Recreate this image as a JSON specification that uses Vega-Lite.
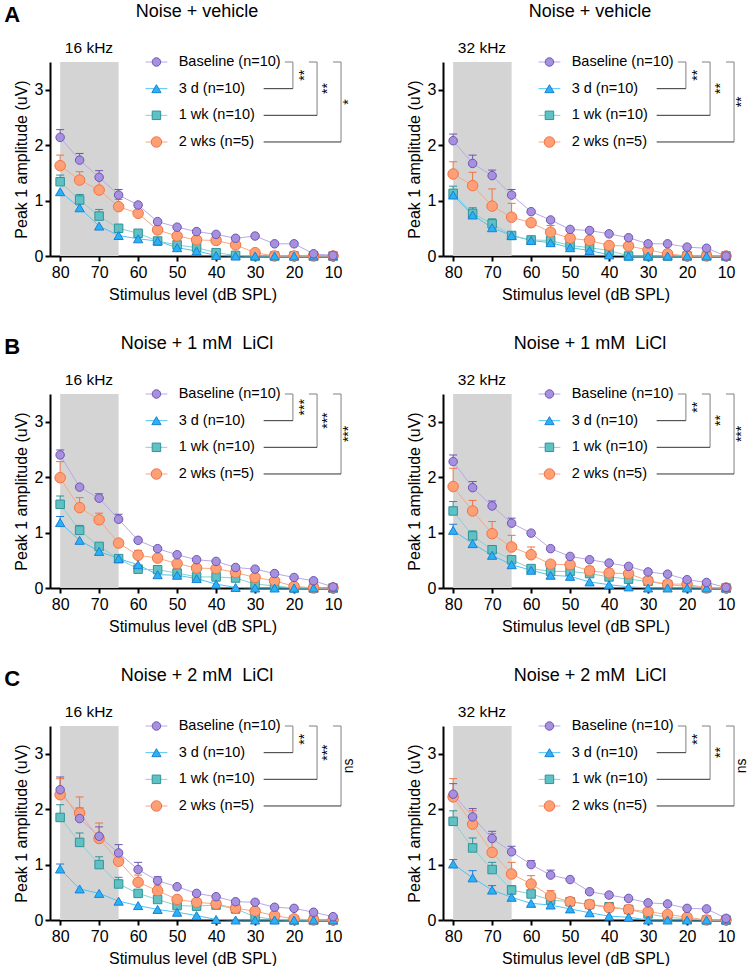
{
"$schema": "https://vega.github.io/schema/vega-lite/v6.json",
"padding": {"left": 4, "top": 2, "right": 0, "bottom": 0},
"config": {
  "font": "Liberation Sans",
  "view": {"stroke": null},
  "legend": {"disable": true},
  "headerFacet": {"labels": false, "title": null, "labelPadding": 0, "labelFontSize": 1},
  "axis": {"domainColor": "#000", "domainWidth": 2, "tickColor": "#000", "tickWidth": 2, "tickSize": 5, "labelColor": "#000", "labelFontSize": 16, "titleFontSize": 16, "titleFontWeight": "normal", "titleColor": "#000", "grid": false, "labelFont": "Liberation Sans", "titleFont": "Liberation Sans"}
},
"datasets": {
"panels": [
 {"p":"A16","title":"Noise + vehicle","freq":"16 kHz","s1":"**","s2":"**","s3":"*","letter":"A"},
 {"p":"A32","title":"Noise + vehicle","freq":"32 kHz","s1":"**","s2":"**","s3":"**","letter":""},
 {"p":"B16","title":"Noise + 1 mM\u00a0 LiCl","freq":"16 kHz","s1":"***","s2":"***","s3":"***","letter":"B"},
 {"p":"B32","title":"Noise + 1 mM\u00a0 LiCl","freq":"32 kHz","s1":"**","s2":"**","s3":"***","letter":""},
 {"p":"C16","title":"Noise + 2 mM\u00a0 LiCl","freq":"16 kHz","s1":"**","s2":"***","s3":"ns","letter":"C"},
 {"p":"C32","title":"Noise + 2 mM\u00a0 LiCl","freq":"32 kHz","s1":"**","s2":"**","s3":"ns","letter":""}
],
"groups": [
 {"g":"Baseline","label":"Baseline (n=10)"},
 {"g":"3 d","label":"3 d (n=10)"},
 {"g":"1 wk","label":"1 wk (n=10)"},
 {"g":"2 wks","label":"2 wks (n=5)"}
],
"abr": [
{"p":"A16","g":"Baseline","l":80,"v":2.14,"e":2.28},{"p":"A16","g":"Baseline","l":75,"v":1.73,"e":1.85},{"p":"A16","g":"Baseline","l":70,"v":1.42,"e":1.54},{"p":"A16","g":"Baseline","l":65,"v":1.10,"e":1.20},{"p":"A16","g":"Baseline","l":60,"v":0.92},{"p":"A16","g":"Baseline","l":55,"v":0.62},{"p":"A16","g":"Baseline","l":50,"v":0.52},{"p":"A16","g":"Baseline","l":45,"v":0.44},{"p":"A16","g":"Baseline","l":40,"v":0.39},{"p":"A16","g":"Baseline","l":35,"v":0.32},{"p":"A16","g":"Baseline","l":30,"v":0.36},{"p":"A16","g":"Baseline","l":25,"v":0.22},{"p":"A16","g":"Baseline","l":20,"v":0.22},{"p":"A16","g":"Baseline","l":15,"v":0.04},{"p":"A16","g":"Baseline","l":10,"v":0.01},
{"p":"A16","g":"3 d","l":80,"v":1.16},{"p":"A16","g":"3 d","l":75,"v":0.87},{"p":"A16","g":"3 d","l":70,"v":0.54},{"p":"A16","g":"3 d","l":65,"v":0.37},{"p":"A16","g":"3 d","l":60,"v":0.31},{"p":"A16","g":"3 d","l":55,"v":0.27},{"p":"A16","g":"3 d","l":50,"v":0.15},{"p":"A16","g":"3 d","l":45,"v":0.09},{"p":"A16","g":"3 d","l":40,"v":0.01},{"p":"A16","g":"3 d","l":35,"v":0},{"p":"A16","g":"3 d","l":30,"v":0},{"p":"A16","g":"3 d","l":25,"v":0},{"p":"A16","g":"3 d","l":20,"v":0},{"p":"A16","g":"3 d","l":15,"v":0},{"p":"A16","g":"3 d","l":10,"v":0},
{"p":"A16","g":"1 wk","l":80,"v":1.34,"e":1.46},{"p":"A16","g":"1 wk","l":75,"v":1.01,"e":1.11},{"p":"A16","g":"1 wk","l":70,"v":0.72,"e":0.84},{"p":"A16","g":"1 wk","l":65,"v":0.50},{"p":"A16","g":"1 wk","l":60,"v":0.41},{"p":"A16","g":"1 wk","l":55,"v":0.27},{"p":"A16","g":"1 wk","l":50,"v":0.20},{"p":"A16","g":"1 wk","l":45,"v":0.15},{"p":"A16","g":"1 wk","l":40,"v":0.06},{"p":"A16","g":"1 wk","l":35,"v":0.01},{"p":"A16","g":"1 wk","l":30,"v":0},{"p":"A16","g":"1 wk","l":25,"v":0},{"p":"A16","g":"1 wk","l":20,"v":0},{"p":"A16","g":"1 wk","l":15,"v":0},{"p":"A16","g":"1 wk","l":10,"v":0},
{"p":"A16","g":"2 wks","l":80,"v":1.63,"e":1.82},{"p":"A16","g":"2 wks","l":75,"v":1.37,"e":1.52},{"p":"A16","g":"2 wks","l":70,"v":1.19,"e":1.39},{"p":"A16","g":"2 wks","l":65,"v":0.89,"e":1.02},{"p":"A16","g":"2 wks","l":60,"v":0.77},{"p":"A16","g":"2 wks","l":55,"v":0.47},{"p":"A16","g":"2 wks","l":50,"v":0.36},{"p":"A16","g":"2 wks","l":45,"v":0.29},{"p":"A16","g":"2 wks","l":40,"v":0.28},{"p":"A16","g":"2 wks","l":35,"v":0.20},{"p":"A16","g":"2 wks","l":30,"v":0.06},{"p":"A16","g":"2 wks","l":25,"v":0},{"p":"A16","g":"2 wks","l":20,"v":0},{"p":"A16","g":"2 wks","l":15,"v":0},{"p":"A16","g":"2 wks","l":10,"v":0},
{"p":"A32","g":"Baseline","l":80,"v":2.08,"e":2.20},{"p":"A32","g":"Baseline","l":75,"v":1.67,"e":1.82},{"p":"A32","g":"Baseline","l":70,"v":1.45,"e":1.55},{"p":"A32","g":"Baseline","l":65,"v":1.10,"e":1.20},{"p":"A32","g":"Baseline","l":60,"v":0.80},{"p":"A32","g":"Baseline","l":55,"v":0.65},{"p":"A32","g":"Baseline","l":50,"v":0.48},{"p":"A32","g":"Baseline","l":45,"v":0.46},{"p":"A32","g":"Baseline","l":40,"v":0.40},{"p":"A32","g":"Baseline","l":35,"v":0.33},{"p":"A32","g":"Baseline","l":30,"v":0.22},{"p":"A32","g":"Baseline","l":25,"v":0.22},{"p":"A32","g":"Baseline","l":20,"v":0.16},{"p":"A32","g":"Baseline","l":15,"v":0.14},{"p":"A32","g":"Baseline","l":10,"v":0.0},
{"p":"A32","g":"3 d","l":80,"v":1.10},{"p":"A32","g":"3 d","l":75,"v":0.74},{"p":"A32","g":"3 d","l":70,"v":0.51},{"p":"A32","g":"3 d","l":65,"v":0.37},{"p":"A32","g":"3 d","l":60,"v":0.28},{"p":"A32","g":"3 d","l":55,"v":0.24},{"p":"A32","g":"3 d","l":50,"v":0.15},{"p":"A32","g":"3 d","l":45,"v":0.10},{"p":"A32","g":"3 d","l":40,"v":0.02},{"p":"A32","g":"3 d","l":35,"v":0},{"p":"A32","g":"3 d","l":30,"v":0},{"p":"A32","g":"3 d","l":25,"v":0},{"p":"A32","g":"3 d","l":20,"v":0},{"p":"A32","g":"3 d","l":15,"v":0},{"p":"A32","g":"3 d","l":10,"v":0},
{"p":"A32","g":"1 wk","l":80,"v":1.13,"e":1.26},{"p":"A32","g":"1 wk","l":75,"v":0.77,"e":0.87},{"p":"A32","g":"1 wk","l":70,"v":0.58,"e":0.67},{"p":"A32","g":"1 wk","l":65,"v":0.37},{"p":"A32","g":"1 wk","l":60,"v":0.29},{"p":"A32","g":"1 wk","l":55,"v":0.28},{"p":"A32","g":"1 wk","l":50,"v":0.19},{"p":"A32","g":"1 wk","l":45,"v":0.15},{"p":"A32","g":"1 wk","l":40,"v":0.10},{"p":"A32","g":"1 wk","l":35,"v":0},{"p":"A32","g":"1 wk","l":30,"v":0},{"p":"A32","g":"1 wk","l":25,"v":0},{"p":"A32","g":"1 wk","l":20,"v":0},{"p":"A32","g":"1 wk","l":15,"v":0},{"p":"A32","g":"1 wk","l":10,"v":0},
{"p":"A32","g":"2 wks","l":80,"v":1.48,"e":1.70},{"p":"A32","g":"2 wks","l":75,"v":1.27,"e":1.51},{"p":"A32","g":"2 wks","l":70,"v":0.90,"e":1.21},{"p":"A32","g":"2 wks","l":65,"v":0.70,"e":0.95},{"p":"A32","g":"2 wks","l":60,"v":0.60},{"p":"A32","g":"2 wks","l":55,"v":0.43,"e":0.55},{"p":"A32","g":"2 wks","l":50,"v":0.32,"e":0.39},{"p":"A32","g":"2 wks","l":45,"v":0.28,"e":0.36},{"p":"A32","g":"2 wks","l":40,"v":0.19},{"p":"A32","g":"2 wks","l":35,"v":0.18},{"p":"A32","g":"2 wks","l":30,"v":0.11},{"p":"A32","g":"2 wks","l":25,"v":0.04},{"p":"A32","g":"2 wks","l":20,"v":0},{"p":"A32","g":"2 wks","l":15,"v":0},{"p":"A32","g":"2 wks","l":10,"v":0},
{"p":"B16","g":"Baseline","l":80,"v":2.40,"e":2.49},{"p":"B16","g":"Baseline","l":75,"v":1.82},{"p":"B16","g":"Baseline","l":70,"v":1.62,"e":1.70},{"p":"B16","g":"Baseline","l":65,"v":1.24,"e":1.33},{"p":"B16","g":"Baseline","l":60,"v":0.86},{"p":"B16","g":"Baseline","l":55,"v":0.71},{"p":"B16","g":"Baseline","l":50,"v":0.60},{"p":"B16","g":"Baseline","l":45,"v":0.51},{"p":"B16","g":"Baseline","l":40,"v":0.48},{"p":"B16","g":"Baseline","l":35,"v":0.37},{"p":"B16","g":"Baseline","l":30,"v":0.34},{"p":"B16","g":"Baseline","l":25,"v":0.26},{"p":"B16","g":"Baseline","l":20,"v":0.19},{"p":"B16","g":"Baseline","l":15,"v":0.13},{"p":"B16","g":"Baseline","l":10,"v":0.02},
{"p":"B16","g":"3 d","l":80,"v":1.18,"e":1.29},{"p":"B16","g":"3 d","l":75,"v":0.86},{"p":"B16","g":"3 d","l":70,"v":0.66},{"p":"B16","g":"3 d","l":65,"v":0.53},{"p":"B16","g":"3 d","l":60,"v":0.42},{"p":"B16","g":"3 d","l":55,"v":0.24},{"p":"B16","g":"3 d","l":50,"v":0.23},{"p":"B16","g":"3 d","l":45,"v":0.17},{"p":"B16","g":"3 d","l":40,"v":0.07},{"p":"B16","g":"3 d","l":35,"v":0.01},{"p":"B16","g":"3 d","l":30,"v":0},{"p":"B16","g":"3 d","l":25,"v":0},{"p":"B16","g":"3 d","l":20,"v":0},{"p":"B16","g":"3 d","l":15,"v":0},{"p":"B16","g":"3 d","l":10,"v":0},
{"p":"B16","g":"1 wk","l":80,"v":1.51,"e":1.66},{"p":"B16","g":"1 wk","l":75,"v":1.04,"e":1.13},{"p":"B16","g":"1 wk","l":70,"v":0.75},{"p":"B16","g":"1 wk","l":65,"v":0.53},{"p":"B16","g":"1 wk","l":60,"v":0.34},{"p":"B16","g":"1 wk","l":55,"v":0.33},{"p":"B16","g":"1 wk","l":50,"v":0.27},{"p":"B16","g":"1 wk","l":45,"v":0.20},{"p":"B16","g":"1 wk","l":40,"v":0.20},{"p":"B16","g":"1 wk","l":35,"v":0.18},{"p":"B16","g":"1 wk","l":30,"v":0.07},{"p":"B16","g":"1 wk","l":25,"v":0.04},{"p":"B16","g":"1 wk","l":20,"v":0},{"p":"B16","g":"1 wk","l":15,"v":0},{"p":"B16","g":"1 wk","l":10,"v":0},
{"p":"B16","g":"2 wks","l":80,"v":1.99,"e":2.28},{"p":"B16","g":"2 wks","l":75,"v":1.45,"e":1.63},{"p":"B16","g":"2 wks","l":70,"v":1.23,"e":1.35},{"p":"B16","g":"2 wks","l":65,"v":0.81,"e":0.87},{"p":"B16","g":"2 wks","l":60,"v":0.59,"e":0.68},{"p":"B16","g":"2 wks","l":55,"v":0.54},{"p":"B16","g":"2 wks","l":50,"v":0.44},{"p":"B16","g":"2 wks","l":45,"v":0.36},{"p":"B16","g":"2 wks","l":40,"v":0.35},{"p":"B16","g":"2 wks","l":35,"v":0.28},{"p":"B16","g":"2 wks","l":30,"v":0.19},{"p":"B16","g":"2 wks","l":25,"v":0.13},{"p":"B16","g":"2 wks","l":20,"v":0.03},{"p":"B16","g":"2 wks","l":15,"v":0},{"p":"B16","g":"2 wks","l":10,"v":0},
{"p":"B32","g":"Baseline","l":80,"v":2.28,"e":2.40},{"p":"B32","g":"Baseline","l":75,"v":1.81,"e":1.92},{"p":"B32","g":"Baseline","l":70,"v":1.48,"e":1.57},{"p":"B32","g":"Baseline","l":65,"v":1.17,"e":1.26},{"p":"B32","g":"Baseline","l":60,"v":0.99},{"p":"B32","g":"Baseline","l":55,"v":0.71},{"p":"B32","g":"Baseline","l":50,"v":0.57},{"p":"B32","g":"Baseline","l":45,"v":0.51},{"p":"B32","g":"Baseline","l":40,"v":0.45},{"p":"B32","g":"Baseline","l":35,"v":0.39},{"p":"B32","g":"Baseline","l":30,"v":0.29},{"p":"B32","g":"Baseline","l":25,"v":0.25},{"p":"B32","g":"Baseline","l":20,"v":0.15},{"p":"B32","g":"Baseline","l":15,"v":0.10},{"p":"B32","g":"Baseline","l":10,"v":0.01},
{"p":"B32","g":"3 d","l":80,"v":1.04,"e":1.15},{"p":"B32","g":"3 d","l":75,"v":0.80},{"p":"B32","g":"3 d","l":70,"v":0.59},{"p":"B32","g":"3 d","l":65,"v":0.42},{"p":"B32","g":"3 d","l":60,"v":0.32},{"p":"B32","g":"3 d","l":55,"v":0.23},{"p":"B32","g":"3 d","l":50,"v":0.21},{"p":"B32","g":"3 d","l":45,"v":0.11},{"p":"B32","g":"3 d","l":40,"v":0.06},{"p":"B32","g":"3 d","l":35,"v":0.02},{"p":"B32","g":"3 d","l":30,"v":0},{"p":"B32","g":"3 d","l":25,"v":0},{"p":"B32","g":"3 d","l":20,"v":0},{"p":"B32","g":"3 d","l":15,"v":0},{"p":"B32","g":"3 d","l":10,"v":0},
{"p":"B32","g":"1 wk","l":80,"v":1.39,"e":1.56},{"p":"B32","g":"1 wk","l":75,"v":0.94,"e":1.03},{"p":"B32","g":"1 wk","l":70,"v":0.69},{"p":"B32","g":"1 wk","l":65,"v":0.51},{"p":"B32","g":"1 wk","l":60,"v":0.35},{"p":"B32","g":"1 wk","l":55,"v":0.30},{"p":"B32","g":"1 wk","l":50,"v":0.30},{"p":"B32","g":"1 wk","l":45,"v":0.26},{"p":"B32","g":"1 wk","l":40,"v":0.20},{"p":"B32","g":"1 wk","l":35,"v":0.16},{"p":"B32","g":"1 wk","l":30,"v":0.12},{"p":"B32","g":"1 wk","l":25,"v":0.06},{"p":"B32","g":"1 wk","l":20,"v":0.03},{"p":"B32","g":"1 wk","l":15,"v":0.01},{"p":"B32","g":"1 wk","l":10,"v":0},
{"p":"B32","g":"2 wks","l":80,"v":1.83,"e":2.16},{"p":"B32","g":"2 wks","l":75,"v":1.39,"e":1.58},{"p":"B32","g":"2 wks","l":70,"v":0.98,"e":1.20},{"p":"B32","g":"2 wks","l":65,"v":0.74,"e":0.95},{"p":"B32","g":"2 wks","l":60,"v":0.60,"e":0.74},{"p":"B32","g":"2 wks","l":55,"v":0.43},{"p":"B32","g":"2 wks","l":50,"v":0.42},{"p":"B32","g":"2 wks","l":45,"v":0.31,"e":0.39},{"p":"B32","g":"2 wks","l":40,"v":0.27,"e":0.34},{"p":"B32","g":"2 wks","l":35,"v":0.26},{"p":"B32","g":"2 wks","l":30,"v":0.13},{"p":"B32","g":"2 wks","l":25,"v":0.07},{"p":"B32","g":"2 wks","l":20,"v":0.07},{"p":"B32","g":"2 wks","l":15,"v":0},{"p":"B32","g":"2 wks","l":10,"v":0},
{"p":"C16","g":"Baseline","l":80,"v":2.35,"e":2.58},{"p":"C16","g":"Baseline","l":75,"v":1.83,"e":2.02},{"p":"C16","g":"Baseline","l":70,"v":1.51,"e":1.68},{"p":"C16","g":"Baseline","l":65,"v":1.21,"e":1.36},{"p":"C16","g":"Baseline","l":60,"v":0.91,"e":1.04},{"p":"C16","g":"Baseline","l":55,"v":0.71,"e":0.78},{"p":"C16","g":"Baseline","l":50,"v":0.60},{"p":"C16","g":"Baseline","l":45,"v":0.48},{"p":"C16","g":"Baseline","l":40,"v":0.42},{"p":"C16","g":"Baseline","l":35,"v":0.33},{"p":"C16","g":"Baseline","l":30,"v":0.32},{"p":"C16","g":"Baseline","l":25,"v":0.23},{"p":"C16","g":"Baseline","l":20,"v":0.21},{"p":"C16","g":"Baseline","l":15,"v":0.14},{"p":"C16","g":"Baseline","l":10,"v":0.06},
{"p":"C16","g":"3 d","l":80,"v":0.92,"e":1.01},{"p":"C16","g":"3 d","l":75,"v":0.56},{"p":"C16","g":"3 d","l":70,"v":0.48},{"p":"C16","g":"3 d","l":65,"v":0.34},{"p":"C16","g":"3 d","l":60,"v":0.26},{"p":"C16","g":"3 d","l":55,"v":0.19},{"p":"C16","g":"3 d","l":50,"v":0.14},{"p":"C16","g":"3 d","l":45,"v":0.08},{"p":"C16","g":"3 d","l":40,"v":0.01},{"p":"C16","g":"3 d","l":35,"v":0},{"p":"C16","g":"3 d","l":30,"v":0},{"p":"C16","g":"3 d","l":25,"v":0},{"p":"C16","g":"3 d","l":20,"v":0},{"p":"C16","g":"3 d","l":15,"v":0},{"p":"C16","g":"3 d","l":10,"v":0},
{"p":"C16","g":"1 wk","l":80,"v":1.85,"e":2.08},{"p":"C16","g":"1 wk","l":75,"v":1.40,"e":1.57},{"p":"C16","g":"1 wk","l":70,"v":1.00,"e":1.14},{"p":"C16","g":"1 wk","l":65,"v":0.65,"e":0.77},{"p":"C16","g":"1 wk","l":60,"v":0.48},{"p":"C16","g":"1 wk","l":55,"v":0.37},{"p":"C16","g":"1 wk","l":50,"v":0.26},{"p":"C16","g":"1 wk","l":45,"v":0.25},{"p":"C16","g":"1 wk","l":40,"v":0.27},{"p":"C16","g":"1 wk","l":35,"v":0.20},{"p":"C16","g":"1 wk","l":30,"v":0.06},{"p":"C16","g":"1 wk","l":25,"v":0.01},{"p":"C16","g":"1 wk","l":20,"v":0},{"p":"C16","g":"1 wk","l":15,"v":0},{"p":"C16","g":"1 wk","l":10,"v":0},
{"p":"C16","g":"2 wks","l":80,"v":2.26,"e":2.55},{"p":"C16","g":"2 wks","l":75,"v":1.93,"e":2.22},{"p":"C16","g":"2 wks","l":70,"v":1.47,"e":1.75},{"p":"C16","g":"2 wks","l":65,"v":1.06,"e":1.24},{"p":"C16","g":"2 wks","l":60,"v":0.68,"e":0.81},{"p":"C16","g":"2 wks","l":55,"v":0.53,"e":0.63},{"p":"C16","g":"2 wks","l":50,"v":0.37,"e":0.42},{"p":"C16","g":"2 wks","l":45,"v":0.32},{"p":"C16","g":"2 wks","l":40,"v":0.29},{"p":"C16","g":"2 wks","l":35,"v":0.21},{"p":"C16","g":"2 wks","l":30,"v":0.16},{"p":"C16","g":"2 wks","l":25,"v":0.08},{"p":"C16","g":"2 wks","l":20,"v":0.02},{"p":"C16","g":"2 wks","l":15,"v":0},{"p":"C16","g":"2 wks","l":10,"v":0},
{"p":"C32","g":"Baseline","l":80,"v":2.27,"e":2.46},{"p":"C32","g":"Baseline","l":75,"v":1.86,"e":2.01},{"p":"C32","g":"Baseline","l":70,"v":1.47,"e":1.60},{"p":"C32","g":"Baseline","l":65,"v":1.23,"e":1.33},{"p":"C32","g":"Baseline","l":60,"v":1.00,"e":1.07},{"p":"C32","g":"Baseline","l":55,"v":0.81,"e":0.90},{"p":"C32","g":"Baseline","l":50,"v":0.73},{"p":"C32","g":"Baseline","l":45,"v":0.51},{"p":"C32","g":"Baseline","l":40,"v":0.45},{"p":"C32","g":"Baseline","l":35,"v":0.39},{"p":"C32","g":"Baseline","l":30,"v":0.31},{"p":"C32","g":"Baseline","l":25,"v":0.29},{"p":"C32","g":"Baseline","l":20,"v":0.21},{"p":"C32","g":"Baseline","l":15,"v":0.20},{"p":"C32","g":"Baseline","l":10,"v":0.03},
{"p":"C32","g":"3 d","l":80,"v":1.01,"e":1.09},{"p":"C32","g":"3 d","l":75,"v":0.76,"e":0.89},{"p":"C32","g":"3 d","l":70,"v":0.54,"e":0.62},{"p":"C32","g":"3 d","l":65,"v":0.41},{"p":"C32","g":"3 d","l":60,"v":0.30},{"p":"C32","g":"3 d","l":55,"v":0.27},{"p":"C32","g":"3 d","l":50,"v":0.20},{"p":"C32","g":"3 d","l":45,"v":0.13},{"p":"C32","g":"3 d","l":40,"v":0.07},{"p":"C32","g":"3 d","l":35,"v":0.05},{"p":"C32","g":"3 d","l":30,"v":0},{"p":"C32","g":"3 d","l":25,"v":0},{"p":"C32","g":"3 d","l":20,"v":0},{"p":"C32","g":"3 d","l":15,"v":0},{"p":"C32","g":"3 d","l":10,"v":0},
{"p":"C32","g":"1 wk","l":80,"v":1.78,"e":1.97},{"p":"C32","g":"1 wk","l":75,"v":1.30,"e":1.48},{"p":"C32","g":"1 wk","l":70,"v":0.91,"e":1.04},{"p":"C32","g":"1 wk","l":65,"v":0.54,"e":0.62},{"p":"C32","g":"1 wk","l":60,"v":0.47},{"p":"C32","g":"1 wk","l":55,"v":0.36},{"p":"C32","g":"1 wk","l":50,"v":0.33},{"p":"C32","g":"1 wk","l":45,"v":0.28},{"p":"C32","g":"1 wk","l":40,"v":0.24},{"p":"C32","g":"1 wk","l":35,"v":0.19},{"p":"C32","g":"1 wk","l":30,"v":0.11},{"p":"C32","g":"1 wk","l":25,"v":0.05},{"p":"C32","g":"1 wk","l":20,"v":0.02},{"p":"C32","g":"1 wk","l":15,"v":0},{"p":"C32","g":"1 wk","l":10,"v":0},
{"p":"C32","g":"2 wks","l":80,"v":2.22,"e":2.55},{"p":"C32","g":"2 wks","l":75,"v":1.73,"e":1.97},{"p":"C32","g":"2 wks","l":70,"v":1.22,"e":1.56},{"p":"C32","g":"2 wks","l":65,"v":0.83,"e":1.04},{"p":"C32","g":"2 wks","l":60,"v":0.65,"e":0.80},{"p":"C32","g":"2 wks","l":55,"v":0.43,"e":0.53},{"p":"C32","g":"2 wks","l":50,"v":0.33},{"p":"C32","g":"2 wks","l":45,"v":0.28},{"p":"C32","g":"2 wks","l":40,"v":0.22},{"p":"C32","g":"2 wks","l":35,"v":0.19},{"p":"C32","g":"2 wks","l":30,"v":0.15},{"p":"C32","g":"2 wks","l":25,"v":0.10},{"p":"C32","g":"2 wks","l":20,"v":0.05},{"p":"C32","g":"2 wks","l":15,"v":0},{"p":"C32","g":"2 wks","l":10,"v":0}
]
},
"data": {"name": "abr"},
"transform": [
  {"lookup": "p", "from": {"data": {"name": "panels"}, "key": "p", "fields": ["title","freq","s1","s2","s3","letter"]}},
  {"lookup": "g", "from": {"data": {"name": "groups"}, "key": "g", "fields": ["label"]}}
],
"facet": {"field": "p", "type": "nominal", "sort": ["A16","A32","B16","B32","C16","C32"], "header": {"labels": false, "title": null, "labelExpr": "''", "labelFontSize": 1, "labelPadding": 0}},
"columns": 2,
"spacing": {"row": 138, "column": 108},
"bounds": "flush",
"resolve": {"axis": {"x": "independent", "y": "independent"}},
"spec": {
  "width": 285,
  "height": 194,
  "resolve": {"scale": {"y": "independent"}},
  "layer": [
    {"layer": [
      {"transform": [{"filter": "datum.l == 80 && datum.g == 'Baseline'"}],
       "mark": {"type": "rect", "color": "#d4d4d4"},
       "encoding": {"x": {"datum": 80}, "x2": {"datum": 65}, "y": {"datum": 0}, "y2": {"datum": 3.5}}},
      {"mark": {"type": "line", "strokeWidth": 1},
       "encoding": {
         "x": {"field": "l", "type": "quantitative", "scale": {"domain": [9.5, 82.6], "reverse": true, "nice": false, "zero": false},
               "axis": {"title": "Stimulus level (dB SPL)", "values": [80,70,60,50,40,30,20,10], "labelPadding": 3, "titlePadding": 6}},
         "y": {"field": "v", "type": "quantitative", "scale": {"domain": [0, 3.5], "nice": false},
               "axis": {"title": "Peak 1 amplitude (uV)", "values": [0,0.5,1,1.5,2,2.5,3], "labelExpr": "datum.value % 1 == 0 ? format(datum.value, 'd') : ''", "labelPadding": 2, "titlePadding": 5}},
         "color": {"field": "g", "type": "nominal", "scale": {"domain": ["Baseline","3 d","1 wk","2 wks"], "range": ["#b9a8e6","#4cc3f5","#86d0d2","#f7a882"]}, "legend": null}
       }},
      {"transform": [{"filter": "isValid(datum.e)"}],
       "mark": {"type": "rule", "strokeWidth": 1},
       "encoding": {"x": {"field": "l", "type": "quantitative"}, "y": {"field": "v", "type": "quantitative"}, "y2": {"field": "e"},
         "stroke": {"field": "g", "type": "nominal", "scale": {"domain": ["Baseline","3 d","1 wk","2 wks"], "range": ["#6d55b3","#1b7fd6","#2f9398","#ef7443"]}, "legend": null}}},
      {"transform": [{"filter": "isValid(datum.e)"}],
       "mark": {"type": "point", "shape": "stroke", "size": 64, "strokeWidth": 1, "filled": false, "opacity": 1},
       "encoding": {"x": {"field": "l", "type": "quantitative"}, "y": {"field": "e", "type": "quantitative"},
         "stroke": {"field": "g", "type": "nominal", "legend": null}}},
      {"mark": {"type": "point", "filled": true, "strokeWidth": 1, "opacity": 1},
       "encoding": {"x": {"field": "l", "type": "quantitative"}, "y": {"field": "v", "type": "quantitative"},
         "shape": {"field": "g", "type": "nominal", "scale": {"domain": ["Baseline","3 d","1 wk","2 wks"], "range": ["circle","triangle-up","square","circle"]}, "legend": null},
         "fill": {"field": "g", "type": "nominal", "scale": {"domain": ["Baseline","3 d","1 wk","2 wks"], "range": ["#a790de","#29b2f4","#5fc1c3","#ff9f75"]}, "legend": null},
         "stroke": {"field": "g", "type": "nominal", "legend": null},
         "size": {"condition": [{"test": "datum.g == '2 wks'", "value": 110}, {"test": "datum.g == '3 d'", "value": 85}], "value": 72},
         "order": {"field": "g", "sort": "ascending"}}},
      {"transform": [{"filter": "datum.l == 80 && datum.g == 'Baseline'"}],
       "mark": {"type": "text", "fontSize": 15.5, "align": "center", "baseline": "middle", "fill": "#000"},
       "encoding": {"x": {"datum": 72.6}, "y": {"datum": 3.76}, "text": {"field": "freq"}}},
      {"transform": [{"filter": "datum.l == 80 && datum.g == 'Baseline'"}],
       "mark": {"type": "text", "fontSize": 18, "align": "center", "baseline": "middle", "fill": "#000"},
       "encoding": {"x": {"datum": 44.9}, "y": {"datum": 4.4}, "text": {"field": "title"}}},
      {"transform": [{"filter": "datum.l == 80 && datum.g == 'Baseline'"}],
       "mark": {"type": "text", "fontSize": 22, "fontWeight": "bold", "align": "center", "baseline": "middle", "fill": "#000"},
       "encoding": {"x": {"datum": 92.3}, "y": {"datum": 4.35}, "text": {"field": "letter"}}},
      {"transform": [{"filter": "datum.l == 80 && datum.g == 'Baseline'"}],
       "mark": {"type": "rule", "color": "#808080", "strokeWidth": 1},
       "encoding": {"x": {"datum": 22.35}, "x2": {"datum": 20.3}, "y": {"datum": 3.5}}},
      {"transform": [{"filter": "datum.l == 80 && datum.g == 'Baseline'"}],
       "mark": {"type": "rule", "color": "#808080", "strokeWidth": 1},
       "encoding": {"x": {"datum": 20.3}, "y": {"datum": 3.5}, "y2": {"datum": 3.019}}},
      {"transform": [{"filter": "datum.l == 80 && datum.g == 'Baseline'"}],
       "mark": {"type": "rule", "color": "#333333", "strokeWidth": 1},
       "encoding": {"x": {"datum": 27.8}, "x2": {"datum": 20.3}, "y": {"datum": 3.019}}},
      {"transform": [{"filter": "datum.l == 80 && datum.g == 'Baseline'"}],
       "mark": {"type": "rule", "color": "#808080", "strokeWidth": 1},
       "encoding": {"x": {"datum": 16.2}, "x2": {"datum": 14.1}, "y": {"datum": 3.5}}},
      {"transform": [{"filter": "datum.l == 80 && datum.g == 'Baseline'"}],
       "mark": {"type": "rule", "color": "#808080", "strokeWidth": 1},
       "encoding": {"x": {"datum": 14.1}, "y": {"datum": 3.5}, "y2": {"datum": 2.538}}},
      {"transform": [{"filter": "datum.l == 80 && datum.g == 'Baseline'"}],
       "mark": {"type": "rule", "color": "#333333", "strokeWidth": 1},
       "encoding": {"x": {"datum": 27.8}, "x2": {"datum": 14.1}, "y": {"datum": 2.538}}},
      {"transform": [{"filter": "datum.l == 80 && datum.g == 'Baseline'"}],
       "mark": {"type": "rule", "color": "#808080", "strokeWidth": 1},
       "encoding": {"x": {"datum": 10.0}, "x2": {"datum": 7.95}, "y": {"datum": 3.5}}},
      {"transform": [{"filter": "datum.l == 80 && datum.g == 'Baseline'"}],
       "mark": {"type": "rule", "color": "#808080", "strokeWidth": 1},
       "encoding": {"x": {"datum": 7.95}, "y": {"datum": 3.5}, "y2": {"datum": 2.057}}},
      {"transform": [{"filter": "datum.l == 80 && datum.g == 'Baseline'"}],
       "mark": {"type": "rule", "color": "#333333", "strokeWidth": 1},
       "encoding": {"x": {"datum": 27.8}, "x2": {"datum": 7.95}, "y": {"datum": 2.057}}},
      {"transform": [{"filter": "datum.l == 80 && datum.g == 'Baseline'"}],
       "mark": {"type": "text", "angle": 270, "fontSize": 14, "align": "center", "baseline": "middle", "fill": "#000"},
       "encoding": {"x": {"datum": 17.2}, "y": {"datum": 3.26}, "text": {"field": "s1"}}},
      {"transform": [{"filter": "datum.l == 80 && datum.g == 'Baseline'"}],
       "mark": {"type": "text", "angle": 270, "fontSize": 14, "align": "center", "baseline": "middle", "fill": "#000"},
       "encoding": {"x": {"datum": 11.2}, "y": {"datum": 3.02}, "text": {"field": "s2"}}},
      {"transform": [{"filter": "datum.l == 80 && datum.g == 'Baseline'"}],
       "mark": {"type": "text", "angle": 270, "fontSize": 14, "align": "center", "baseline": "middle", "fill": "#000"},
       "encoding": {"x": {"datum": 5.8}, "y": {"datum": 2.78}, "text": {"field": "s3"}}}
    ]},
    {"transform": [{"filter": "datum.l == 80"}],
     "layer": [
      {"mark": {"type": "rule", "strokeWidth": 1},
       "encoding": {"x": {"datum": 58.1}, "x2": {"datum": 52.5},
         "y": {"field": "g", "type": "nominal", "scale": {"type": "point", "domain": ["Baseline","3 d","1 wk","2 wks"], "range": [0, 80], "padding": 0}, "axis": null},
         "color": {"field": "g", "type": "nominal", "legend": null}}},
      {"mark": {"type": "point", "filled": true, "strokeWidth": 1, "opacity": 1},
       "encoding": {"x": {"datum": 55.3},
         "y": {"field": "g", "type": "nominal", "axis": null},
         "shape": {"field": "g", "type": "nominal", "legend": null},
         "fill": {"field": "g", "type": "nominal", "legend": null},
         "stroke": {"field": "g", "type": "nominal", "legend": null},
         "size": {"condition": [{"test": "datum.g == '2 wks'", "value": 110}, {"test": "datum.g == '3 d'", "value": 85}], "value": 72}}},
      {"mark": {"type": "text", "align": "left", "baseline": "middle", "fontSize": 14.5, "fill": "#000"},
       "encoding": {"x": {"datum": 49.6},
         "y": {"field": "g", "type": "nominal", "axis": null},
         "text": {"field": "label"}}}
     ]}
  ]
}
}
